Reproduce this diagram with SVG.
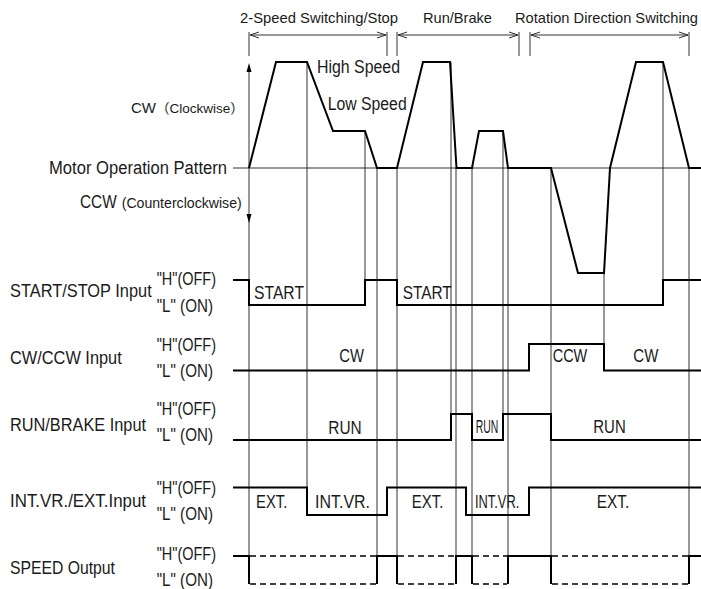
<svg xmlns="http://www.w3.org/2000/svg" width="701" height="589" viewBox="0 0 701 589">
<style>
text{font-family:"Liberation Sans","Noto Sans CJK JP",sans-serif;font-size:18px;fill:#1a1a1a}
.sm{font-size:14px}
.top{font-size:15px}
.grid{stroke:#333;stroke-width:1;fill:none}
.sig{stroke:#000;stroke-width:2;fill:none;stroke-linejoin:miter}
.dash{stroke:#000;stroke-width:1.5;fill:none;stroke-dasharray:6 4}
.brk{stroke:#333;stroke-width:1;fill:none}
</style>
<defs>
<marker id="open" viewBox="-10 -5 12 10" markerWidth="12" markerHeight="10" refX="0" refY="0" orient="auto-start-reverse" markerUnits="userSpaceOnUse">
<path d="M-9,-3 L0,0 L-9,3" fill="none" stroke="#333" stroke-width="1"/>
</marker>
</defs>
<rect width="701" height="589" fill="#fff"/>

<g id="brackets">
<path class="brk" d="M249,32V56M387,32V56M397,32V56M519,32V56M530,32V56M689,32V56"/>
<line class="brk" x1="250" y1="35" x2="386" y2="35" marker-start="url(#open)" marker-end="url(#open)"/>
<line class="brk" x1="398" y1="35" x2="518" y2="35" marker-start="url(#open)" marker-end="url(#open)"/>
<line class="brk" x1="531" y1="35" x2="688" y2="35" marker-start="url(#open)" marker-end="url(#open)"/>
<text class="top" x="240" y="23" textLength="158" lengthAdjust="spacingAndGlyphs">2-Speed Switching/Stop</text>
<text class="top" x="423" y="23" textLength="69" lengthAdjust="spacingAndGlyphs">Run/Brake</text>
<text class="top" x="515" y="23" style="font-size:14.6px" textLength="183" lengthAdjust="spacingAndGlyphs">Rotation Direction Switching</text>
</g>

<g id="grid">
<line class="grid" x1="249" y1="68" x2="249" y2="584"/>
<path d="M249,63 L246.5,72 L251.5,72Z" fill="#000"/>
<path d="M249,223 L246.5,214 L251.5,214Z" fill="#000"/>
<path class="grid" d="M233,168H701"/>
<path class="grid" d="M307,62V515M365,131V305M377,168V584M397,168V584M451,62V440M456,168V584M472,168V584M503,131V440M508,168V584M551,168V584M604,273V370M663,62V305M689,168V584"/>
</g>

<g id="motor-pattern">
<path class="sig" d="M249,168 L276,62 L307,62 L333,131 L365,131 L377,168 L397,168 L423,62 L450,62 L456.5,168 L472,168 L479,131 L503,131 L508,168 L551,168 L578,273 L604,273 L610,168 L636,62 L663,62 L689,168 L701,168"/>
<text x="317" y="72.5" textLength="83" lengthAdjust="spacingAndGlyphs">High Speed</text>
<text x="327.7" y="110" textLength="79" lengthAdjust="spacingAndGlyphs">Low Speed</text>
</g>

<g id="labels">
<text x="131" y="113" style="font-size:15px">CW<tspan x="156" style="font-size:13.5px">（Clockwise）</tspan></text>
<text x="49" y="174" textLength="178" lengthAdjust="spacingAndGlyphs">Motor Operation Pattern</text>
<text x="80" y="207.5"><tspan textLength="36.7" lengthAdjust="spacingAndGlyphs">CCW</tspan><tspan x="121.7" font-size="14" textLength="120" lengthAdjust="spacingAndGlyphs">(Counterclockwise)</tspan></text>
<text x="10" y="297" textLength="141.7" lengthAdjust="spacingAndGlyphs">START/STOP Input</text>
<text x="10" y="364" textLength="111.7" lengthAdjust="spacingAndGlyphs">CW/CCW Input</text>
<text x="10" y="430.5" textLength="136" lengthAdjust="spacingAndGlyphs">RUN/BRAKE Input</text>
<text x="10" y="507" textLength="136" lengthAdjust="spacingAndGlyphs">INT.VR./EXT.Input</text>
<text x="10" y="574" textLength="105" lengthAdjust="spacingAndGlyphs">SPEED Output</text>
<text x="156.7" y="285" textLength="59.3" lengthAdjust="spacingAndGlyphs">"H"(OFF)</text>
<text x="156.7" y="311.5" textLength="56.3" lengthAdjust="spacingAndGlyphs">"L" (ON)</text>
<text x="156.7" y="350.5" textLength="59.3" lengthAdjust="spacingAndGlyphs">"H"(OFF)</text>
<text x="156.7" y="376.5" textLength="56.3" lengthAdjust="spacingAndGlyphs">"L" (ON)</text>
<text x="156.7" y="415" textLength="59.3" lengthAdjust="spacingAndGlyphs">"H"(OFF)</text>
<text x="156.7" y="441" textLength="56.3" lengthAdjust="spacingAndGlyphs">"L" (ON)</text>
<text x="156.7" y="494" textLength="59.3" lengthAdjust="spacingAndGlyphs">"H"(OFF)</text>
<text x="156.7" y="520" textLength="56.3" lengthAdjust="spacingAndGlyphs">"L" (ON)</text>
<text x="156.7" y="560" textLength="59.3" lengthAdjust="spacingAndGlyphs">"H"(OFF)</text>
<text x="156.7" y="586" textLength="56.3" lengthAdjust="spacingAndGlyphs">"L" (ON)</text>
</g>

<g id="start-stop">
<path class="sig" d="M233,280H249V305H365V280H397V305H663V280H701"/>
<text x="254" y="299" textLength="50" lengthAdjust="spacingAndGlyphs">START</text>
<text x="402.7" y="299" textLength="49" lengthAdjust="spacingAndGlyphs">START</text>
</g>

<g id="cw-ccw">
<path class="sig" d="M233,370.5H529V344H604V370.5H701"/>
<text x="339.3" y="361.5" textLength="24.7" lengthAdjust="spacingAndGlyphs">CW</text>
<text x="552.7" y="361.5" textLength="34.6" lengthAdjust="spacingAndGlyphs">CCW</text>
<text x="633.3" y="361.5" textLength="25" lengthAdjust="spacingAndGlyphs">CW</text>
</g>

<g id="run-brake">
<path class="sig" d="M233,440H451V414H472V440H503V414H551V440H701"/>
<text x="328.3" y="434" textLength="33.4" lengthAdjust="spacingAndGlyphs">RUN</text>
<text x="475.7" y="433.3" textLength="22.6" lengthAdjust="spacingAndGlyphs">RUN</text>
<text x="593.3" y="433.3" textLength="32.4" lengthAdjust="spacingAndGlyphs">RUN</text>
</g>

<g id="int-ext">
<path class="sig" d="M233,487.5H307V515H387V487.5H466V515H529V487.5H701"/>
<text x="256" y="508" textLength="31.3" lengthAdjust="spacingAndGlyphs">EXT.</text>
<text x="315" y="508" textLength="55" lengthAdjust="spacingAndGlyphs">INT.VR.</text>
<text x="411.7" y="508" textLength="31.6" lengthAdjust="spacingAndGlyphs">EXT.</text>
<text x="475" y="508" textLength="44.3" lengthAdjust="spacingAndGlyphs">INT.VR.</text>
<text x="596.7" y="508" textLength="32.6" lengthAdjust="spacingAndGlyphs">EXT.</text>
</g>

<g id="speed-output">
<path class="sig" d="M233,556H249V584M377,584V556H397V584M456,584V556H472V584M508,584V556H551V584M689,584V556H701"/>
<path class="dash" d="M250,556H376M250,584H376M398,556H455M398,584H455M473,556H507M473,584H507M552,556H688M552,584H688"/>
</g>
</svg>
